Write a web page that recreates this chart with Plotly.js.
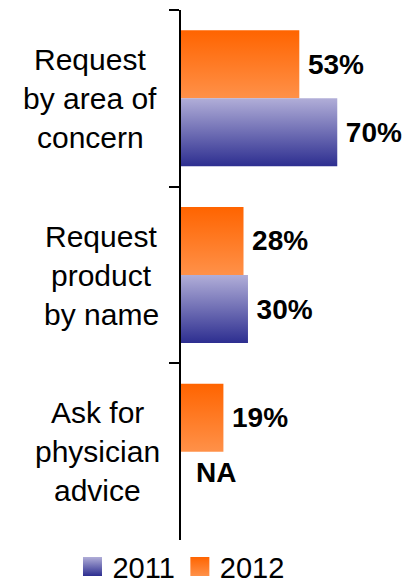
<!DOCTYPE html>
<html>
<head>
<meta charset="utf-8">
<script src="https://cdn.plot.ly/plotly-3.0.1.min.js"></script>
<style>
  html, body { margin: 0; padding: 0; background: #fff; }
  #chart { width: 402px; height: 580px; }
</style>
</head>
<body>
<div id="chart"></div>
<script>
// ---- data ----
const categories = ['Request by area of concern', 'Request product by name', 'Ask for physician advice'];
const categoryLines = [['Request', 'by area of', 'concern'], ['Request', 'product', 'by name'], ['Ask for', 'physician', 'advice']];
const seriesNames = ['2011', '2012'];
const values2011 = [70, 30, null];
const values2012 = [53, 28, 19];
const missingLabel = 'NA';

const FONT = 'Arial, "Liberation Sans", sans-serif';
const labelCenters = [-0.41, -0.36, -0.38]; // paper x of each category label block
const gradients = {
  '2011': { id: 'grad2011', top: '#B1AED8', bottom: '#2D2E90' },
  '2012': { id: 'grad2012', top: '#FF6400', bottom: '#FF9149' }
};

function labelText(v) { return v == null ? '' : '\u2009' + v + '%'; }

const traces = [
  { name: seriesNames[1], values: values2012, color: '#FF7A25' },
  { name: seriesNames[0], values: values2011, color: '#6E6DB4' }
].map(s => ({
  type: 'bar',
  orientation: 'h',
  name: s.name,
  y: categories,
  x: s.values,
  text: s.values.map(labelText),
  textposition: 'outside',
  cliponaxis: false,
  textfont: { family: FONT, size: 28, color: '#000', weight: 'bold' },
  marker: { color: s.color, line: { width: 0 } },
  hoverinfo: 'skip'
}));

const annotations = [];
categoryLines.forEach((lines, ci) => {
  lines.forEach((ln, li) => {
    annotations.push({
      xref: 'paper', yref: 'y',
      x: labelCenters[ci], y: categories[ci],
      xanchor: 'center', yanchor: 'middle',
      yshift: ((lines.length - 1) / 2 - li) * 39,
      text: ln, showarrow: false,
      font: { family: FONT, size: 30, color: '#000' }
    });
  });
});
values2011.forEach((v, i) => {
  if (v == null) {
    annotations.push({
      xref: 'x', yref: 'y', x: 0, y: categories[i],
      xanchor: 'left', yanchor: 'middle', xshift: 13, yshift: -21,
      text: '<b>' + missingLabel + '</b>', showarrow: false,
      font: { family: FONT, size: 28, color: '#000' }
    });
  }
});

const layout = {
  width: 402, height: 580,
  margin: { l: 181, r: 0, t: 10, b: 40, autoexpand: false },
  paper_bgcolor: '#fff', plot_bgcolor: '#fff',
  barmode: 'group',
  bargap: 0.23,
  bargroupgap: 0,
  showlegend: true,
  legend: {
    orientation: 'h', traceorder: 'reversed',
    xref: 'paper', yref: 'paper',
    x: -0.491, xanchor: 'left', y: -0.002, yanchor: 'top',
    font: { family: FONT, size: 29, color: '#000' },
    itemwidth: 30, borderwidth: 0, bgcolor: 'rgba(0,0,0,0)'
  },
  xaxis: { range: [0, 99], visible: false, fixedrange: true },
  yaxis: {
    type: 'category', range: [2.5, -0.5],
    showline: true, linecolor: '#000', linewidth: 2,
    ticks: 'outside', tickson: 'boundaries', ticklen: 10, tickwidth: 2, tickcolor: '#000',
    showticklabels: false, showgrid: false, zeroline: false, fixedrange: true
  },
  annotations: annotations
};

function traceName(d) {
  if (!d) return null;
  if (d[0] && d[0].trace) return d[0].trace.name;
  if (d[0] && d[0][0] && d[0][0].trace) return d[0][0].trace.name;
  return null;
}

function applyGradients(gd) {
  const svg = gd.querySelector('.main-svg');
  const NS = 'http://www.w3.org/2000/svg';
  let defs = svg.querySelector('defs');
  if (!defs) { defs = document.createElementNS(NS, 'defs'); svg.insertBefore(defs, svg.firstChild); }
  Object.values(gradients).forEach(g => {
    if (document.getElementById(g.id)) return;
    const lg = document.createElementNS(NS, 'linearGradient');
    lg.setAttribute('id', g.id);
    lg.setAttribute('x1', '0'); lg.setAttribute('y1', '0');
    lg.setAttribute('x2', '0'); lg.setAttribute('y2', '1');
    [[0, g.top], [1, g.bottom]].forEach(([o, c]) => {
      const st = document.createElementNS(NS, 'stop');
      st.setAttribute('offset', o);
      st.setAttribute('stop-color', c);
      lg.appendChild(st);
    });
    defs.appendChild(lg);
  });
  gd.querySelectorAll('.barlayer .trace').forEach(t => {
    const name = traceName(t.__data__);
    if (!name || !gradients[name]) return;
    t.querySelectorAll('.point path').forEach(p => { p.style.fill = 'url(#' + gradients[name].id + ')'; });
  });
  gd.querySelectorAll('.legend .traces').forEach(t => {
    const name = traceName(t.__data__);
    if (!name || !gradients[name]) return;
    t.querySelectorAll('.legendpoints path').forEach(p => {
      p.setAttribute('d', 'M9.5,9.5H-9.5V-9.5H9.5Z');
      p.style.fill = 'url(#' + gradients[name].id + ')';
    });
  });
}

Plotly.newPlot('chart', traces, layout, { staticPlot: true, displayModeBar: false }).then(applyGradients);
</script>
</body>
</html>
